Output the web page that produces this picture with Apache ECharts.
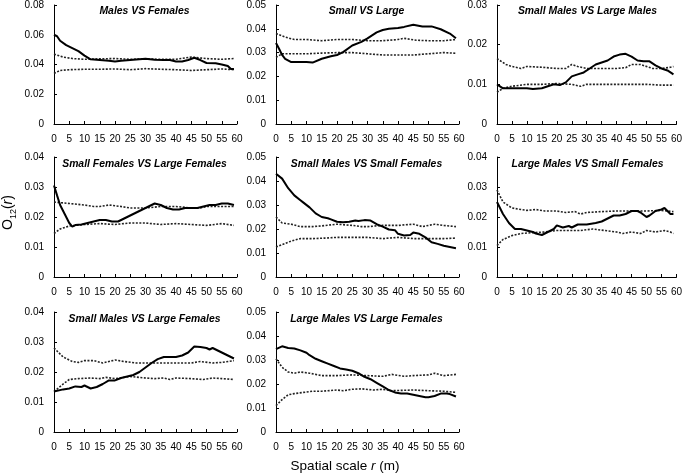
<!DOCTYPE html>
<html>
<head>
<meta charset="utf-8">
<script src="https://cdn.jsdelivr.net/npm/echarts@6/dist/echarts.min.js"></script>
<style>html,body{margin:0;padding:0;background:#fff}#c{width:685px;height:476px}</style>
</head>
<body>
<div id="c"></div>
<script>
const panelTitles = ['Males VS Females','Small VS Large','Small Males VS Large Males',
  'Small Females VS Large Females','Small Males VS Small Females','Large Males VS Small Females',
  'Small Males VS Large Females','Large Males VS Large Females'];
const yMax = [0.08,0.05,0.03,0.04,0.05,0.04,0.04,0.05];
const yStep = [0.02,0.01,0.01,0.01,0.01,0.01,0.01,0.01];
const xTicks = [0,5,10,15,20,25,30,35,40,45,50,55,60];

// Panel 1: Males VS Females
const p1Obs = [[0,0.060],[1,0.059],[2,0.056],[4,0.053],[6,0.051],[8,0.049],[10,0.046],[12,0.0435],[15,0.043],[18,0.0425],[20,0.042],[22,0.0425],[25,0.043],[28,0.0435],[30,0.0438],[33,0.0432],[36,0.043],[38,0.043],[40,0.042],[42,0.042],[44,0.043],[46,0.0445],[48,0.043],[50,0.041],[53,0.0408],[55,0.040],[57,0.039],[58,0.037],[59,0.037]];
const p1Up = [[0,0.047],[3,0.045],[6,0.044],[10,0.0435],[15,0.0438],[20,0.044],[25,0.0435],[30,0.0438],[35,0.0435],[40,0.0435],[45,0.045],[50,0.044],[55,0.0435],[59,0.044]];
const p1Lo = [[0,0.034],[2,0.036],[5,0.0365],[10,0.0368],[15,0.0368],[20,0.037],[25,0.0365],[30,0.0372],[35,0.0368],[40,0.0365],[45,0.036],[50,0.0365],[55,0.037],[59,0.0365]];

// Panel 2: Small VS Large
const p2Obs = [[0,0.034],[1,0.0316],[2,0.029],[3,0.0274],[5,0.026],[7,0.026],[10,0.026],[12,0.0258],[15,0.0274],[18,0.0285],[20,0.029],[22,0.0302],[25,0.033],[28,0.0345],[30,0.036],[33,0.0385],[35,0.0395],[37,0.040],[40,0.0403],[42,0.0408],[45,0.0417],[48,0.041],[51,0.041],[54,0.0398],[57,0.038],[59,0.036]];
const p2Up = [[0,0.038],[3,0.0365],[6,0.0355],[10,0.0355],[15,0.035],[20,0.0355],[25,0.0355],[30,0.035],[35,0.035],[40,0.0355],[42,0.036],[46,0.0352],[50,0.035],[55,0.035],[59,0.0355]];
const p2Lo = [[0,0.028],[2,0.0295],[6,0.0295],[10,0.0295],[15,0.0298],[20,0.030],[25,0.030],[30,0.0295],[35,0.029],[40,0.029],[45,0.029],[50,0.0295],[55,0.030],[59,0.0297]];

// Panel 3: Small Males VS Large Males
const p3Obs = [[0,0.010],[2,0.009],[5,0.009],[8,0.009],[10,0.009],[12,0.0088],[15,0.009],[17,0.0095],[19,0.010],[21,0.0098],[23,0.0105],[25,0.012],[27,0.0125],[29,0.013],[31,0.014],[33,0.015],[35,0.0155],[37,0.016],[39,0.017],[41,0.0175],[43,0.0177],[45,0.017],[47,0.016],[49,0.0158],[51,0.0158],[53,0.0148],[55,0.014],[57,0.0135],[59,0.0125]];
const p3Up = [[0,0.0165],[3,0.015],[5,0.0145],[8,0.014],[10,0.0145],[15,0.0143],[20,0.014],[23,0.014],[25,0.015],[27,0.0145],[30,0.014],[35,0.014],[40,0.014],[43,0.0142],[45,0.015],[48,0.015],[52,0.014],[55,0.014],[58,0.0143],[59,0.0145]];
const p3Lo = [[0,0.008],[2,0.009],[5,0.0095],[10,0.010],[15,0.010],[20,0.0102],[25,0.010],[28,0.0095],[30,0.010],[35,0.010],[40,0.010],[45,0.010],[50,0.010],[55,0.0098],[59,0.0098]];

// Panel 4: Small Females VS Large Females
const p4Obs = [[0,0.0305],[1,0.0272],[2,0.024],[3.5,0.021],[5,0.018],[6,0.0168],[7,0.0173],[9,0.0175],[11,0.018],[13,0.0185],[15,0.019],[17,0.019],[19,0.0185],[21,0.0185],[23,0.0195],[26,0.021],[28,0.022],[30,0.023],[31,0.0235],[33,0.0245],[35,0.024],[37,0.023],[39,0.0225],[41,0.0225],[43,0.023],[45,0.023],[47,0.023],[49,0.0235],[51,0.024],[53,0.024],[55,0.0245],[57,0.0245],[59,0.024]];
const p4Up = [[0,0.025],[5,0.0245],[10,0.024],[13,0.0235],[15,0.0235],[18,0.024],[22,0.0235],[25,0.023],[28,0.023],[30,0.023],[35,0.0235],[40,0.0235],[45,0.023],[48,0.023],[50,0.0235],[55,0.0235],[59,0.0235]];
const p4Lo = [[0,0.0145],[2,0.016],[5,0.017],[10,0.0175],[15,0.0178],[20,0.0175],[25,0.018],[30,0.018],[35,0.0175],[40,0.0178],[45,0.0175],[50,0.0172],[55,0.0178],[59,0.0172]];

// Panel 5: Small Males VS Small Females
const p5Obs = [[0,0.043],[2,0.041],[4,0.037],[6,0.034],[8,0.032],[9,0.031],[11,0.029],[13,0.0265],[15,0.025],[17,0.0245],[18,0.024],[20,0.023],[22,0.0228],[24,0.023],[26,0.0235],[27,0.0233],[29,0.0237],[31,0.0235],[33,0.022],[35,0.021],[37,0.0198],[39,0.0195],[40,0.018],[42,0.0173],[44,0.0175],[45,0.0185],[47,0.018],[49,0.0165],[51,0.0145],[53,0.0138],[55,0.013],[57,0.0125],[59,0.012]];
const p5Up = [[0,0.025],[2,0.0225],[5,0.022],[8,0.021],[12,0.021],[15,0.0213],[20,0.022],[25,0.0215],[28,0.021],[30,0.021],[35,0.0215],[40,0.0215],[45,0.022],[48,0.021],[52,0.022],[55,0.0215],[59,0.021]];
const p5Lo = [[0,0.0125],[2,0.0135],[5,0.015],[8,0.016],[12,0.016],[16,0.0162],[20,0.0165],[25,0.0165],[30,0.0165],[35,0.016],[40,0.0165],[45,0.016],[50,0.016],[55,0.016],[59,0.0162]];

// Panel 6: Large Males VS Small Females
const p6Obs = [[0,0.025],[2,0.021],[4,0.018],[6,0.016],[8,0.016],[10,0.0155],[12,0.015],[13,0.0145],[15,0.014],[17,0.015],[19,0.016],[20,0.0172],[22,0.0165],[24,0.017],[25,0.0165],[27,0.0175],[30,0.0175],[33,0.018],[35,0.0185],[37,0.0195],[39,0.0205],[41,0.0205],[43,0.021],[45,0.022],[47,0.022],[48,0.0215],[50,0.020],[51,0.0205],[53,0.022],[55,0.0225],[56,0.023],[58,0.021],[59,0.021]];
const p6Up = [[0,0.029],[2,0.025],[5,0.023],[8,0.0225],[10,0.0222],[13,0.0225],[16,0.022],[20,0.022],[23,0.0215],[26,0.0218],[28,0.021],[30,0.0215],[35,0.0218],[40,0.022],[45,0.022],[50,0.022],[55,0.0222],[59,0.0218]];
const p6Lo = [[0,0.0105],[2,0.0125],[5,0.0138],[8,0.0145],[12,0.0148],[16,0.015],[20,0.0155],[25,0.0155],[28,0.0155],[32,0.016],[36,0.0155],[40,0.015],[42,0.0145],[45,0.015],[48,0.0145],[50,0.0155],[53,0.015],[56,0.0155],[58,0.015],[59,0.0145]];

// Panel 7: Small Males VS Large Females
const p7Obs = [[0,0.0135],[3,0.0142],[5,0.0145],[7,0.0152],[9,0.015],[10,0.0155],[12,0.0145],[14,0.015],[16,0.016],[18,0.0172],[20,0.0172],[22,0.018],[24,0.0185],[26,0.019],[28,0.020],[30,0.0215],[32,0.023],[34,0.0243],[36,0.025],[38,0.025],[40,0.025],[42,0.0255],[44,0.0265],[46,0.0285],[48,0.0283],[50,0.028],[51,0.0275],[52,0.028],[54,0.027],[56,0.026],[58,0.025],[59,0.0245]];
const p7Up = [[0,0.028],[3,0.025],[6,0.0235],[8,0.0232],[10,0.0238],[13,0.0238],[16,0.023],[18,0.0235],[20,0.024],[23,0.0235],[27,0.023],[30,0.023],[35,0.023],[40,0.023],[45,0.023],[48,0.0235],[52,0.023],[55,0.0232],[59,0.0238]];
const p7Lo = [[0,0.0135],[3,0.016],[5,0.0175],[8,0.0178],[12,0.018],[15,0.0178],[17,0.0182],[20,0.0178],[25,0.0185],[30,0.018],[33,0.0178],[36,0.018],[38,0.0175],[40,0.018],[45,0.0178],[49,0.0175],[52,0.018],[55,0.0178],[59,0.0175]];

// Panel 8: Large Males VS Large Females
const p8Obs = [[0,0.0345],[2,0.0357],[4,0.035],[6,0.0348],[8,0.034],[10,0.033],[11,0.032],[13,0.0305],[15,0.0295],[17,0.0285],[19,0.0275],[21,0.0265],[23,0.026],[25,0.0255],[27,0.0245],[29,0.023],[31,0.022],[33,0.0205],[35,0.019],[37,0.0175],[39,0.0165],[41,0.016],[43,0.016],[45,0.0155],[47,0.015],[49,0.0145],[50,0.0145],[52,0.015],[54,0.016],[56,0.016],[57,0.0158],[59,0.0148]];
const p8Up = [[0,0.0305],[2,0.027],[4,0.025],[6,0.0245],[8,0.025],[11,0.0245],[13,0.024],[15,0.0235],[20,0.0235],[25,0.0238],[30,0.0235],[35,0.0232],[38,0.024],[42,0.0232],[45,0.0235],[50,0.0238],[52,0.0245],[55,0.0235],[59,0.024]];
const p8Lo = [[0,0.011],[2,0.0135],[4,0.0155],[6,0.016],[9,0.0165],[12,0.017],[15,0.017],[20,0.0175],[22,0.0172],[25,0.0178],[28,0.018],[32,0.0175],[35,0.0178],[38,0.0172],[45,0.0175],[50,0.0172],[55,0.017],[59,0.0165]];

const obsSeries = [p1Obs,p2Obs,p3Obs,p4Obs,p5Obs,p6Obs,p7Obs,p8Obs];
const upSeries = [p1Up,p2Up,p3Up,p4Up,p5Up,p6Up,p7Up,p8Up];
const loSeries = [p1Lo,p2Lo,p3Lo,p4Lo,p5Lo,p6Lo,p7Lo,p8Lo];

const colLeft = [54, 276, 497];
const rowTop = [4, 157, 312];
const gw = 183, gh = 120;
const FONT = '"Liberation Sans", Arial, sans-serif';

const grids = [], xAxes = [], yAxes = [], series = [], titles = [];
for (let i = 0; i < 8; i++) {
  const c = i % 3, r = Math.floor(i / 3);
  grids.push({left: colLeft[c], top: rowTop[r], width: gw, height: gh, containLabel: false});
  xAxes.push({
    type: 'value', gridIndex: i, min: xTicks[0], max: xTicks[xTicks.length-1], interval: xTicks[1]-xTicks[0],
    axisLine: {show: true, onZero: false, lineStyle: {color: '#000', width: 1}},
    axisTick: {show: true, inside: true, length: 3, lineStyle: {color: '#000'}},
    axisLabel: {color: '#000', fontSize: 10, fontFamily: FONT, margin: 10, showMaxLabel: true, showMinLabel: true},
    splitLine: {show: false}
  });
  yAxes.push({
    type: 'value', gridIndex: i, min: 0, max: yMax[i], interval: yStep[i],
    axisLine: {show: true, lineStyle: {color: '#000', width: 1}},
    axisTick: {show: true, inside: true, length: 3, lineStyle: {color: '#000'}},
    axisLabel: {color: '#000', fontSize: 10, fontFamily: FONT, margin: 10,
      formatter: v => v === 0 ? '0' : v.toFixed(2)},
    splitLine: {show: false}
  });
  titles.push({
    text: panelTitles[i], left: colLeft[c] + gw/2 - 1, top: rowTop[r] + 2.5, textAlign: 'center', padding: 0,
    textStyle: {fontSize: 10.4, fontStyle: 'italic', fontWeight: 'bold', color: '#000', fontFamily: FONT}
  });
  series.push({type: 'line', xAxisIndex: i, yAxisIndex: i, data: upSeries[i], symbol: 'none', smooth: false,
    lineStyle: {color: '#222', width: 1.6, type: [2, 1.5]}, z: 2});
  series.push({type: 'line', xAxisIndex: i, yAxisIndex: i, data: loSeries[i], symbol: 'none', smooth: false,
    lineStyle: {color: '#222', width: 1.6, type: [2, 1.5]}, z: 2});
  series.push({type: 'line', xAxisIndex: i, yAxisIndex: i, data: obsSeries[i], symbol: 'none', smooth: false,
    lineStyle: {color: '#000', width: 2}, z: 3});
}

const chart = echarts.init(document.getElementById('c'), null, {renderer: 'canvas'});
chart.setOption({
  animation: false,
  backgroundColor: '#fff',
  title: titles,
  grid: grids, xAxis: xAxes, yAxis: yAxes, series: series,
  graphic: [
    {type: 'text', x: 345, y: 466,
      style: {text: '{a|Spatial scale }{i|r}{a| (m)}', align: 'center', verticalAlign: 'middle', rich: {
        a: {fontSize: 13.5, fontFamily: FONT, fill: '#000'},
        i: {fontSize: 13.5, fontFamily: FONT, fontStyle: 'italic', fill: '#000'}}}},
    {type: 'text', x: 1, y: 230, rotation: Math.PI/2,
      style: {text: '{a|O}{s|12}{a|(}{i|r}{a|)}', rich: {
        a: {fontSize: 14, fontFamily: FONT, fill: '#000', verticalAlign: 'bottom'},
        s: {fontSize: 9, fontFamily: FONT, fill: '#000', verticalAlign: 'bottom', padding: [0,0,-3,0]},
        i: {fontSize: 14, fontFamily: FONT, fontStyle: 'italic', fill: '#000', verticalAlign: 'bottom'}}}}
  ]
});
</script>
</body>
</html>
